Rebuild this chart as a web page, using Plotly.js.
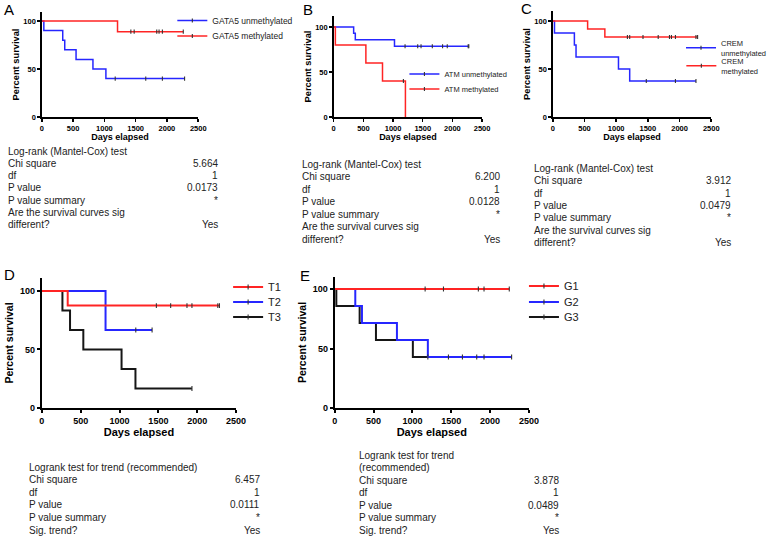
<!DOCTYPE html>
<html>
<head>
<meta charset="utf-8">
<script src="https://cdn.plot.ly/plotly-3.0.1.min.js"></script>
<style>
html, body { margin: 0; padding: 0; background: #fff; }
#plot { width: 772px; height: 540px; }
</style>
</head>
<body>
<div id="plot"></div>
<script>
// ---- data (days, percent survival) ----
const xTicks = [0, 500, 1000, 1500, 2000, 2500];
const yTicks = [0, 50, 100];

// A: GATA5
const gata5UnmethTimes = [32, 334, 366, 547, 817, 1024];
const gata5UnmethSurv = [90, 80, 70, 60, 50, 40];
const gata5UnmethCensor = [1173, 1661, 1927, 2282];
const gata5MethTimes = [1210];
const gata5MethSurv = [88.9];
const gata5MethCensor = [1423, 1476, 1837, 1874, 1927, 2261];

// B: ATM
const atmUnmethTimes = [336, 364, 1024];
const atmUnmethSurv = [92.9, 85.7, 78.6];
const atmUnmethCensor = [1202, 1415, 1471, 1661, 1834, 1913, 2265, 2276];
const atmMethTimes = [28, 542, 822, 1208];
const atmMethSurv = [80, 60, 40, 0];
const atmMethCensor = [1174];

// C: CREM
const cremUnmethTimes = [26, 340, 366, 1036, 1213];
const cremUnmethSurv = [87.5, 75, 62.5, 50, 37.5];
const cremUnmethCensor = [1475, 1935, 2259];
const cremMethTimes = [549, 821];
const cremMethSurv = [91.7, 83.3];
const cremMethCensor = [1177, 1213, 1423, 1663, 1841, 1872, 1935, 2259, 2285];

// D: T stage
const t1Times = [333];
const t1Surv = [87.5];
const t1Censor = [1474, 1658, 1868, 1932, 2265, 2286];
const t2Times = [820];
const t2Surv = [66.7];
const t2Censor = [1209, 1419];
const t3Times = [265, 363, 534, 1026, 1205];
const t3Surv = [83.3, 66.7, 50, 33.3, 16.7];
const t3Censor = [1932];

// E: grade
const g1Times = [];
const g1Surv = [];
const g1Censor = [1164, 1400, 1849, 1922, 2247];
const g2Times = [265, 351, 801, 1199];
const g2Surv = [85.7, 71.4, 57.1, 42.9];
const g2Censor = [1464, 1644, 1828, 1922, 2277];
const g3Times = [21, 321, 531, 1006];
const g3Surv = [85.7, 71.4, 57.1, 42.9];
const g3Censor = [1199];

// stats tables
const labelsLogRank = ["Log-rank (Mantel-Cox) test", "Chi square", "df", "P value",
  "P value summary", "Are the survival curves sig", "different?"];
const valuesA = ["", "5.664", "1", "0.0173", "*", "", "Yes"];
const valuesB = ["", "6.200", "1", "0.0128", "*", "", "Yes"];
const valuesC = ["", "3.912", "1", "0.0479", "*", "", "Yes"];
const labelsD = ["Logrank test for trend (recommended)", "Chi square", "df", "P value",
  "P value summary", "Sig. trend?"];
const valuesD = ["", "6.457", "1", "0.0111", "*", "Yes"];
const labelsE = ["Logrank test for trend", "(recommended)", "Chi square", "df", "P value",
  "P value summary", "Sig. trend?"];
const valuesE = ["", "", "3.878", "1", "0.0489", "*", "Yes"];

// ---- helpers ----
const W = 772, H = 540;
const FONT = "Liberation Sans, Arial, sans-serif";
const RED = "#ff2424", BLUE = "#2626ff", BLACK = "#161616";
const px = v => v / W;
const py = v => 1 - v / H;

function survAt(times, surv, t) {
  let s = 100;
  times.forEach((tt, i) => { if (tt <= t) s = surv[i]; });
  return s;
}

function stepXY(times, surv, censor) {
  const x = [0].concat(times);
  const y = [100].concat(surv);
  const end = Math.max(times.length ? times[times.length - 1] : 0,
                       censor.length ? censor[censor.length - 1] : 0);
  x.push(end);
  y.push(surv.length ? surv[surv.length - 1] : 100);
  return {x, y};
}

// panels: layout boxes in px, then series in drawing order
const panels = [
  {letter: "A", lx: 2, ly: 10, box: [42, 199, 12, 117], ymax: 109.4, small: true,
   series: [
     {name: "GATA5 unmethylated", t: gata5UnmethTimes, s: gata5UnmethSurv, c: gata5UnmethCensor, color: BLUE, leg: [213, 20.5]},
     {name: "GATA5 methylated", t: gata5MethTimes, s: gata5MethSurv, c: gata5MethCensor, color: RED, leg: [213, 36]}
   ], legFont: 8.5,
   stats: {labels: labelsLogRank, values: valuesA, x: 6, right: 221, top: 151, step: 12.3}},
  {letter: "B", lx: 302, ly: 9, box: [335, 484, 16, 117], ymax: 112.2, small: true,
   series: [
     {name: "ATM unmethylated", t: atmUnmethTimes, s: atmUnmethSurv, c: atmUnmethCensor, color: BLUE, leg: [446, 74]},
     {name: "ATM methylated", t: atmMethTimes, s: atmMethSurv, c: atmMethCensor, color: RED, leg: [446, 89]}
   ], legFont: 7.5,
   stats: {labels: labelsLogRank, values: valuesB, x: 301, right: 504, top: 164, step: 12.5}},
  {letter: "C", lx: 521, ly: 8, box: [555, 714, 11, 117], ymax: 110.4, small: true,
   series: [
     {name: "CREM<br>unmethylated", t: cremUnmethTimes, s: cremUnmethSurv, c: cremUnmethCensor, color: BLUE, leg: [724, 48]},
     {name: "CREM<br>methylated", t: cremMethTimes, s: cremMethSurv, c: cremMethCensor, color: RED, leg: [724, 66]}
   ], legFont: 7.5,
   stats: {labels: labelsLogRank, values: valuesC, x: 534, right: 736, top: 168, step: 12.5}},
  {letter: "D", lx: 2, ly: 274, box: [42, 237, 278, 408], ymax: 111.1, small: false,
   series: [
     {name: "T3", t: t3Times, s: t3Surv, c: t3Censor, color: BLACK, leg: [269, 317]},
     {name: "T2", t: t2Times, s: t2Surv, c: t2Censor, color: BLUE, leg: [269, 302]},
     {name: "T1", t: t1Times, s: t1Surv, c: t1Censor, color: RED, leg: [269, 287]}
   ], legFont: 11,
   stats: {labels: labelsD, values: valuesD, x: 27, right: 263, top: 467, step: 12.6}},
  {letter: "E", lx: 299, ly: 275, box: [336, 531, 277, 408], ymax: 110.1, small: false,
   series: [
     {name: "G3", t: g3Times, s: g3Surv, c: g3Censor, color: BLACK, leg: [566, 317]},
     {name: "G2", t: g2Times, s: g2Surv, c: g2Censor, color: BLUE, leg: [566, 302]},
     {name: "G1", t: g1Times, s: g1Surv, c: g1Censor, color: RED, leg: [566, 286]}
   ], legFont: 11,
   stats: {labels: labelsE, values: valuesE, x: 358, right: 563, top: 455, step: 12.5}}
];

const traces = [];
const layout = {
  width: W, height: H,
  margin: {l: 0, r: 0, t: 0, b: 0},
  paper_bgcolor: "#fff",
  plot_bgcolor: "rgba(0,0,0,0)",
  showlegend: true,
  font: {family: FONT, color: "#222"},
  annotations: []
};

let legendCount = 0;

panels.forEach((p, i) => {
  const n = i + 1;
  const xa = n === 1 ? "x" : "x" + n;
  const ya = n === 1 ? "y" : "y" + n;
  const lw = p.small ? 1.5 : 2;
  const tickSize = p.small ? 7.5 : 9;
  const titleSize = p.small ? 9 : 11;

  layout["xaxis" + (n === 1 ? "" : n)] = {
    domain: [px(p.box[0]), px(p.box[1])],
    anchor: ya, range: [0, 2500], tickvals: xTicks,
    ticks: "outside", ticklen: 3, tickwidth: lw, tickcolor: "#000",
    showline: true, linewidth: lw, linecolor: "#000",
    showgrid: false, zeroline: false, fixedrange: true,
    tickfont: {family: FONT, size: tickSize, color: "#000", weight: "bold"},
    title: {text: "Days elapsed", standoff: p.small ? 1 : 3,
            font: {family: FONT, size: titleSize, color: "#000", weight: "bold"}}
  };
  layout["yaxis" + (n === 1 ? "" : n)] = {
    domain: [py(p.box[3]), py(p.box[2])],
    anchor: xa, range: [0, p.ymax], tickvals: yTicks,
    ticks: "outside", ticklen: 3, tickwidth: lw, tickcolor: "#000",
    showline: true, linewidth: lw, linecolor: "#000",
    showgrid: false, zeroline: false, fixedrange: true,
    tickfont: {family: FONT, size: tickSize, color: "#000", weight: "bold"},
    title: {text: "Percent survival", standoff: p.small ? 2 : 4,
            font: {family: FONT, size: p.small ? 9.3 : 10.5, color: "#000", weight: "bold"}}
  };

  // step lines
  p.series.forEach(s => {
    const xy = stepXY(s.t, s.s, s.c);
    traces.push({
      type: "scatter", mode: "lines", x: xy.x, y: xy.y,
      xaxis: xa, yaxis: ya, showlegend: false, hoverinfo: "skip",
      line: {shape: "hv", color: s.color, width: lw}
    });
  });

  // censor ticks, each series with its own legend entry
  p.series.forEach(s => {
    const cx = [], cy = [];
    s.c.forEach(t => { cx.push(t, null); cy.push(survAt(s.t, s.s, t), null); });
    legendCount += 1;
    const legId = legendCount === 1 ? "legend" : "legend" + legendCount;
    traces.push({
      type: "scatter", mode: "lines+markers", x: cx, y: cy, name: s.name,
      xaxis: xa, yaxis: ya, legend: legId, hoverinfo: "skip",
      line: {color: s.color, width: lw},
      marker: {symbol: "line-ns", size: p.small ? 3 : 3.5, color: "#333",
               line: {width: 1.1, color: "#333"}}
    });
    layout[legId] = {
      x: px(s.leg[0] - 40), y: py(s.leg[1]), xanchor: "left", yanchor: "middle",
      bgcolor: "rgba(0,0,0,0)", borderwidth: 0,
      font: {family: FONT, size: p.legFont, color: "#222"}
    };
  });

  // panel letter
  layout.annotations.push({
    text: p.letter, xref: "paper", yref: "paper", x: px(p.lx), y: py(p.ly),
    xanchor: "left", yanchor: "middle", showarrow: false,
    font: {family: FONT, size: 15, color: "#000"}
  });

  // statistics table
  const st = p.stats;
  st.labels.forEach((lab, r) => {
    const yy = st.top + r * st.step;
    layout.annotations.push({
      text: lab, xref: "paper", yref: "paper", x: px(st.x), y: py(yy),
      xanchor: "left", yanchor: "middle", showarrow: false,
      font: {family: FONT, size: 10, color: "#222"}
    });
    if (st.values[r]) {
      layout.annotations.push({
        text: st.values[r], xref: "paper", yref: "paper", x: px(st.right), y: py(yy),
        xanchor: "right", yanchor: "middle", showarrow: false,
        font: {family: FONT, size: 10, color: "#222"}
      });
    }
  });
});

Plotly.newPlot("plot", traces, layout, {staticPlot: true, displayModeBar: false});
</script>
</body>
</html>
